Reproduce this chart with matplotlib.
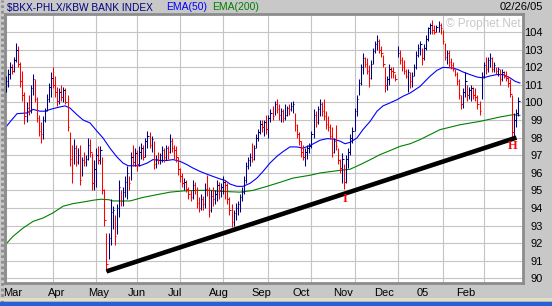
import matplotlib
matplotlib.use('Agg')
import matplotlib.pyplot as plt
from matplotlib import transforms
from matplotlib.patches import Rectangle
from matplotlib.lines import Line2D

plt.rcParams['font.family'] = ['Liberation Sans', 'DejaVu Sans']

months = ['Mar', 'Apr', 'May', 'Jun', 'Jul', 'Aug', 'Sep', 'Oct', 'Nov', 'Dec', '05', 'Feb']
month_start = [0, 23, 44, 64, 85, 106, 128, 149, 170, 191, 213, 233]

# daily bars, Mar 2004 .. Feb 25 2005
close = [
    101.2, 101.6, 102.0, 101.8, 102.4, 103.0, 102.2, 101.2, 100.4, 99.2, 99.7, 99.5, 100.8, 101.3, 100.2, 99.1, 98.4, 98.2, 99.0, 99.5, 100.2, 100.9, 101.4,  # Mar
    101.0, 100.6, 100.1, 100.6, 100.3, 100.7, 100.0, 98.6, 96.8, 96.0, 97.4, 96.6, 97.0, 95.6, 96.7, 96.6, 96.8, 97.6, 97.2, 95.4, 96.2,  # Apr
    97.0, 96.7, 97.3, 95.0, 93.3, 90.8, 92.3, 93.8, 93.9, 92.4, 94.0, 95.2, 94.4, 94.9, 95.5, 96.0, 95.4, 96.9, 96.6, 97.1,  # May
    96.5, 97.2, 97.4, 96.9, 97.8, 98.1, 97.6, 97.9, 96.5, 96.8, 96.7, 97.0, 97.3, 96.9, 97.4, 97.2, 97.8, 97.4, 97.3, 96.9, 96.2,  # Jun
    95.8, 95.4, 95.5, 95.1, 94.8, 94.6, 95.3, 95.0, 94.3, 94.0, 94.5, 94.2, 95.1, 95.0, 93.9, 94.7, 94.5, 94.8, 95.3, 95.0, 95.2,  # Jul
    95.5, 95.3, 94.5, 93.9, 93.2, 93.7, 94.0, 94.2, 94.6, 94.9, 95.6, 96.4, 96.7, 96.9, 96.8, 97.4, 98.0, 98.3, 98.8, 98.6, 98.9, 98.5,  # Aug
    99.1, 99.4, 99.2, 99.9, 99.6, 99.3, 99.5, 99.1, 99.3, 99.7, 99.6, 99.8, 99.9, 98.7, 98.2, 97.8, 97.2, 96.9, 97.2, 97.4, 97.5,  # Sep
    98.2, 99.3, 98.9, 99.6, 99.9, 99.5, 99.2, 98.8, 98.6, 98.1, 97.2, 97.8, 97.5, 96.7, 96.3, 96.8, 95.5, 96.8, 97.2, 98.0, 98.4,  # Oct
    99.5, 100.2, 101.1, 102.0, 102.5, 102.2, 101.8, 101.4, 102.2, 102.9, 103.3, 103.5, 103.0, 102.8, 102.2, 101.0, 101.3, 101.9, 101.8, 101.7, 101.3,  # Nov
    102.8, 102.4, 102.0, 101.8, 101.5, 101.7, 101.2, 101.5, 102.0, 102.7, 103.1, 103.3, 102.5, 103.1, 103.6, 104.2, 104.4, 104.1, 104.0, 104.3, 104.4, 104.2,  # Dec
    103.5, 102.6, 102.8, 102.3, 102.1, 101.9, 101.6, 101.2, 100.4, 99.9, 100.6, 101.2, 100.4, 100.7, 100.8, 100.4, 100.3, 99.9, 99.5, 101.5,  # Jan
    102.1, 101.9, 102.4, 102.5, 101.9, 102.1, 101.8, 101.9, 101.3, 101.7, 101.5, 101.4, 101.1, 100.5, 98.3, 99.0, 99.4, 100.1,  # Feb
]
high = [
    101.5, 101.9, 102.3, 102.2, 102.6, 103.4, 103.2, 102.3, 101.8, 100.6, 100.0, 100.4, 101.0, 101.6, 101.3, 100.3, 99.3, 98.9, 99.2, 99.7, 100.5, 101.1, 101.7,
    102.0, 101.5, 100.9, 100.8, 101.0, 100.9, 100.8, 100.4, 98.3, 97.6, 97.9, 97.6, 97.4, 97.6, 96.9, 97.2, 97.0, 98.0, 97.9, 97.1, 96.7,
    97.4, 97.5, 97.5, 96.9, 95.1, 92.6, 92.6, 94.5, 94.1, 93.6, 94.2, 95.6, 95.0, 95.2, 95.8, 96.4, 95.8, 97.2, 97.6, 97.4,
    97.3, 97.5, 97.7, 97.6, 98.0, 98.4, 98.3, 98.1, 97.8, 97.0, 97.2, 97.1, 97.5, 97.4, 97.6, 97.5, 98.2, 98.0, 97.6, 97.5, 96.9,
    96.3, 96.0, 95.7, 95.6, 95.2, 95.0, 95.6, 95.5, 95.2, 94.6, 94.8, 94.7, 95.4, 95.9, 95.2, 95.0, 95.2, 95.0, 95.6, 95.5, 95.4,
    95.8, 95.6, 95.4, 94.6, 94.2, 93.9, 94.3, 94.4, 94.8, 95.2, 95.8, 96.6, 96.9, 97.1, 97.7, 97.6, 98.2, 98.5, 99.0, 99.0, 99.0, 99.3,
    99.3, 99.6, 99.8, 100.1, 100.2, 99.9, 99.7, 99.6, 99.9, 99.8, 99.9, 100.0, 100.1, 99.4, 98.8, 98.3, 97.8, 97.6, 97.4, 97.6, 97.7,
    98.4, 99.6, 99.5, 99.8, 100.2, 100.0, 100.2, 99.5, 99.2, 98.8, 98.6, 98.0, 98.7, 97.4, 96.8, 97.1, 96.5, 97.0, 97.4, 98.2, 98.6,
    99.7, 100.4, 101.3, 102.2, 102.8, 102.6, 102.5, 102.1, 102.4, 103.1, 103.5, 103.8, 103.6, 103.2, 102.7, 102.0, 101.5, 102.2, 102.0, 102.0, 101.6,
    103.2, 103.0, 102.6, 102.4, 101.9, 101.9, 101.7, 101.7, 102.2, 102.9, 103.3, 103.5, 103.1, 103.3, 103.8, 104.3, 104.5, 104.7, 104.4, 104.4, 104.6, 104.5,
    104.1, 103.4, 103.0, 103.0, 102.5, 102.3, 101.9, 101.7, 101.3, 100.4, 100.8, 101.7, 101.0, 100.9, 101.0, 100.9, 100.8, 100.4, 100.1, 101.7,
    102.3, 102.6, 102.6, 102.8, 102.6, 102.3, 102.0, 102.0, 101.9, 101.9, 101.8, 101.8, 101.5, 101.3, 100.4, 99.4, 99.6, 100.3,
]
low = [
    100.6, 100.9, 101.3, 101.6, 101.7, 102.3, 102.0, 100.9, 100.1, 98.8, 98.9, 99.3, 99.4, 100.4, 100.0, 98.9, 98.1, 97.7, 97.9, 98.9, 99.5, 100.0, 100.3,
    100.8, 100.3, 99.8, 99.9, 100.1, 100.0, 99.9, 98.4, 96.4, 95.4, 96.5, 96.4, 96.5, 95.3, 95.8, 96.4, 96.4, 96.7, 96.9, 95.0, 95.0,
    95.2, 96.5, 96.5, 94.8, 93.0, 90.4, 91.1, 91.9, 92.8, 91.9, 92.5, 93.5, 94.1, 94.1, 94.6, 94.5, 95.0, 95.6, 96.4, 96.4,
    96.1, 96.4, 96.8, 96.7, 96.9, 97.4, 97.4, 97.2, 96.2, 96.3, 96.5, 96.5, 96.6, 96.6, 96.7, 96.8, 97.1, 97.2, 96.8, 96.6, 95.9,
    95.5, 95.2, 95.0, 94.9, 94.5, 94.4, 94.5, 94.8, 94.0, 93.8, 93.9, 93.9, 94.0, 94.7, 93.5, 93.8, 94.1, 94.2, 94.4, 94.5, 94.6,
    94.8, 94.5, 94.2, 93.6, 92.9, 93.0, 93.3, 93.6, 93.8, 94.4, 94.8, 95.4, 96.2, 96.4, 96.6, 96.7, 97.4, 97.8, 98.2, 98.3, 98.1, 98.2,
    98.0, 98.9, 99.0, 99.3, 99.4, 99.0, 98.9, 98.9, 99.0, 99.2, 99.3, 99.5, 99.4, 98.4, 98.0, 97.6, 96.9, 96.7, 96.4, 96.8, 97.1,
    97.4, 98.0, 98.6, 98.8, 99.2, 99.2, 99.0, 98.5, 98.4, 97.9, 96.9, 97.1, 97.3, 96.5, 96.0, 95.4, 95.1, 95.4, 96.3, 97.0, 97.7,
    98.4, 99.2, 100.4, 101.0, 101.6, 102.0, 101.6, 100.9, 101.3, 102.2, 102.8, 103.0, 102.8, 102.6, 102.0, 100.6, 100.7, 101.0, 101.4, 101.4, 101.2,
    102.6, 102.2, 101.8, 101.6, 101.4, 100.6, 100.8, 100.9, 101.5, 101.9, 102.6, 102.7, 102.1, 102.4, 103.0, 103.5, 103.9, 103.9, 103.9, 104.0, 104.0, 103.9,
    103.3, 102.4, 102.2, 102.0, 101.9, 101.8, 101.5, 101.0, 100.2, 99.6, 99.7, 100.3, 100.1, 100.2, 100.1, 100.2, 100.1, 99.6, 99.3, 100.2,
    101.4, 101.6, 101.7, 102.0, 101.7, 101.7, 101.6, 101.5, 101.0, 101.2, 101.4, 101.2, 100.9, 100.3, 98.0, 98.1, 98.6, 99.2,
]

# moving averages as drawn (day index, value)
ema50_day = [0, 2, 5.4, 10.2, 13.2, 16.6, 19, 22.4, 26.3, 28.8, 31.2, 34.6, 37.6, 41, 44.4, 47.3, 50.7, 54.1, 57,
             59.5, 62, 65.4, 68.8, 71.7, 75.1, 78.5, 81.5, 84.9, 88.3, 91.2, 94.6, 98.5, 104.4, 106.8, 109.3, 112.7,
             115.6, 119, 122.4, 125.4, 128.8, 132.2, 135.1, 138.5, 141.9, 144.9, 148.3, 153.2, 156.6, 159.5, 162.9,
             165.4, 167.8, 171.2, 174.1, 177.6, 181, 183.9, 187.3, 190.7, 193.7, 197.1, 201.9, 206.8, 210.2, 213.2,
             218, 220.5, 222.9, 226.3, 229.8, 232.7, 236.1, 239.5, 242.4, 245.9, 248.3, 250.7]
ema50_val = [98.6, 98.9, 99.36, 99.4, 99.6, 99.5, 99.5, 99.63, 99.74, 99.8, 99.68, 99.3, 99.0, 98.83, 98.36, 97.98,
             97.4, 96.9, 96.56, 96.4, 96.4, 96.4, 96.55, 96.75, 96.7, 96.7, 96.75, 96.65, 96.46, 96.27, 96.08, 95.9,
             95.65, 95.57, 95.36, 95.23, 95.23, 95.4, 95.7, 96.08, 96.56, 96.94, 97.2, 97.47, 97.47, 97.4, 97.55,
             97.85, 97.94, 97.92, 97.8, 97.65, 97.73, 97.98, 98.45, 98.92, 99.5, 99.8, 99.97, 100.15, 100.35, 100.53,
             100.9, 101.48, 101.82, 101.99, 101.95, 101.86, 101.73, 101.58, 101.44, 101.39, 101.5, 101.58, 101.58,
             101.39, 101.2, 101.1]
ema200_day = [0, 3.4, 8.3, 13.2, 18, 22.9, 27.8, 32.7, 37.6, 42.4, 46.3, 50.2, 52.2, 60.5, 66.8, 73.7, 80, 86.3,
              93.2, 99.5, 104.4, 114.1, 120.5, 127.3, 133.7, 140, 148.3, 153.2, 163, 167.8, 172.7, 177.6, 182.4,
              187.3, 192.2, 197.1, 201.9, 211.7, 221.5, 231.2, 241, 247.3, 250.7]
ema200_val = [91.95, 92.39, 92.86, 93.24, 93.43, 93.72, 94.1, 94.25, 94.34, 94.44, 94.5, 94.47, 94.4, 94.4, 94.6,
              94.76, 94.9, 94.97, 95.0, 95.0, 94.95, 94.9, 95.0, 95.23, 95.46, 95.7, 95.86, 95.99, 96.14, 96.2,
              96.46, 96.74, 97.03, 97.26, 97.5, 97.65, 97.88, 98.45, 98.73, 98.92, 99.17, 99.3, 99.26]

trend_day = [49, 249]
trend_val = [90.4, 98.0]

note_text = ['I', 'H']
note_day = [165.4, 247.3]
note_val = [94.5, 97.5]

W, H = 552, 306
fig = plt.figure(figsize=(W / 100, H / 100), dpi=100, facecolor='#c8c8c8')
ax = fig.add_axes([5 / W, 1 - 283 / H, 518 / W, 269 / H])
ax.set_facecolor('white')

days = list(range(len(close)))
colors = ['#000080']
for i in range(1, len(close)):
    colors.append('#ff0000' if close[i] < close[i - 1] else '#000080')

ax.plot(ema200_day, ema200_val, color='#008000', lw=0.8, zorder=2)
ax.plot(ema50_day, ema50_val, color='#0000ff', lw=0.8, zorder=2)
ax.vlines(days, low, high, colors=colors, lw=0.75, zorder=3)
ax.hlines(close, [d for d in days], [d + 0.7 for d in days], colors=colors, lw=0.75, zorder=3)
ax.plot(trend_day, trend_val, color='black', lw=3.3, solid_capstyle='butt', zorder=4)

for t, d, v in zip(note_text, note_day, note_val):
    ax.text(d, v, t, color='#ff0000', fontsize=9, fontweight='bold', family='Liberation Serif',
            ha='center', va='center', zorder=5)

ax.text(0.995, 0.985, '\u00a9 Prophet.Net', transform=ax.transAxes, ha='right', va='top',
        color='#c8c8c8', fontsize=8.5, zorder=1)

ax.set_xlim(-0.5, 252.2)
ax.set_ylim(89.74, 105.02)
ax.set_yticks(range(90, 105))
ax.set_xticks(month_start)
ax.grid(True, color='#c4c4c4', lw=0.8, zorder=0)
ax.set_axisbelow(True)
ax.yaxis.tick_right()
ax.tick_params(axis='y', length=0, pad=14.4, labelsize=8)
for lbl in ax.get_yticklabels():
    lbl.set_ha('right')
ax.tick_params(axis='x', length=0, labelbottom=False)
for sp in ax.spines.values():
    sp.set_color('#8c8c8c')
    sp.set_linestyle((0, (1, 1)))
    sp.set_linewidth(2)

# month labels sit on a slightly compressed scale under the plot
tr = transforms.blended_transform_factory(ax.transData, fig.transFigure)
for m, s in zip(months, month_start):
    ax.text(0.948 * s - 1.5, 1 - 293 / H, m, transform=tr, ha='left', va='center', fontsize=8)

# header
fig.text(7 / W, 1 - 7.5 / H, '$BKX-PHLX/KBW BANK INDEX', color='#000080', fontsize=7.3, va='center')
fig.text(166 / W, 1 - 7.5 / H, 'EMA(50)', color='#0000ff', fontsize=7.5, va='center')
fig.text(212 / W, 1 - 7.5 / H, 'EMA(200)', color='#008000', fontsize=7.5, va='center')
fig.text(543 / W, 1 - 7.5 / H, '02/26/05', color='black', fontsize=8, va='center', ha='right')

# window frame bits
fig.add_artist(Line2D([2 / W, 2 / W], [4 / H, 1], transform=fig.transFigure, color='#8c8c8c',
                      lw=2, linestyle=(0, (1, 1))))
fig.add_artist(Line2D([0, 1], [1 - 299 / H, 1 - 299 / H], transform=fig.transFigure, color='#e6dfc0', lw=2))
fig.patches.append(Rectangle((0, 0), 1, 4 / H, transform=fig.transFigure, color='#2b5fd6', zorder=5))

fig.savefig('out.png', dpi=100, facecolor=fig.get_facecolor())
